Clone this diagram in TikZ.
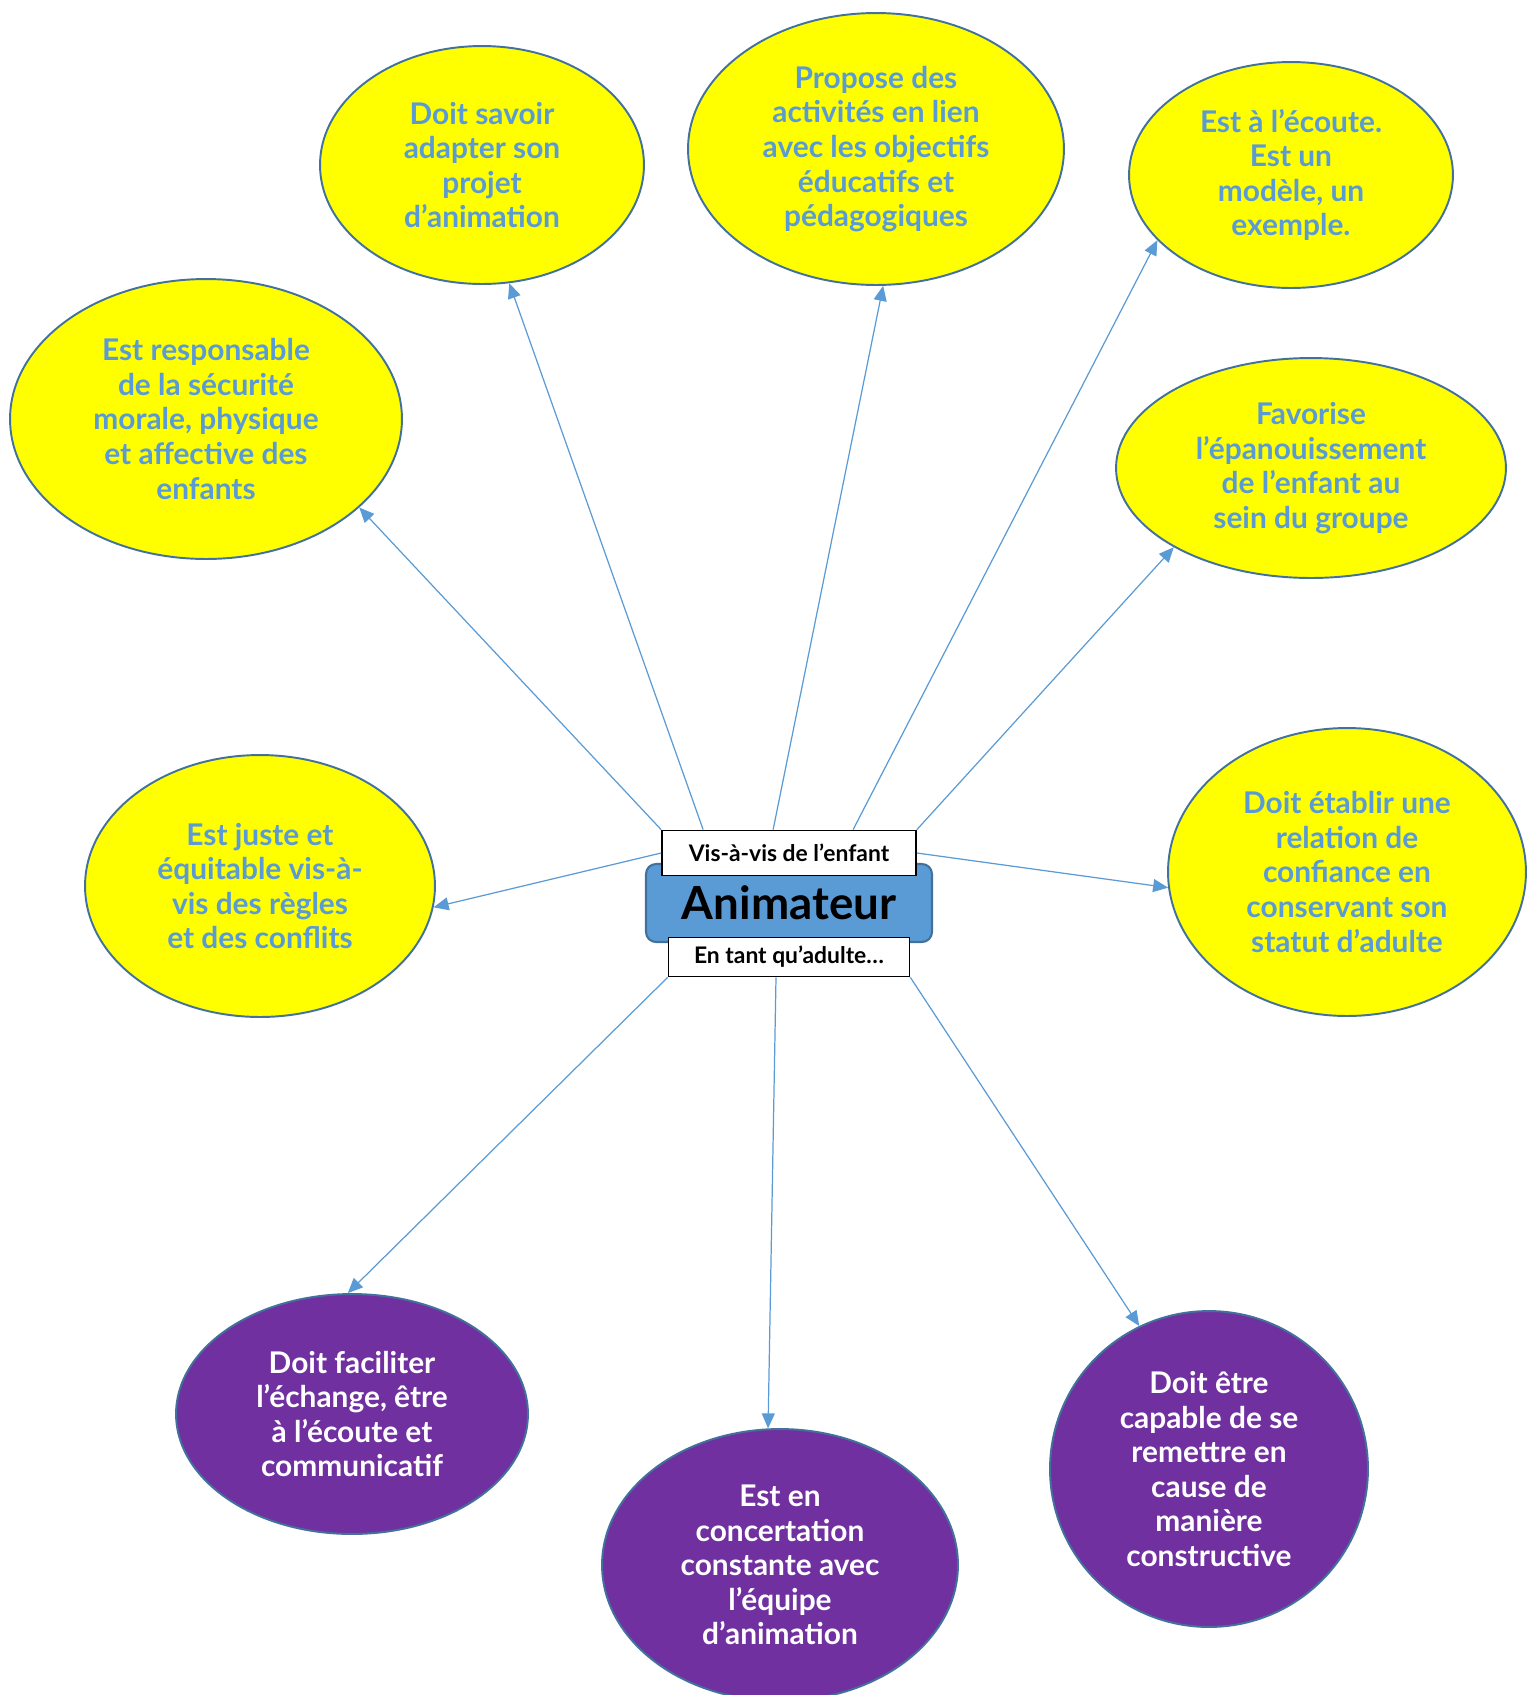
\documentclass[tikz,border=0pt]{standalone}
\usepackage{fontspec}
\setmainfont{Lato}
\usetikzlibrary{arrows.meta, shapes.geometric}
\definecolor{anyellow}{HTML}{FFFF00}
\definecolor{anblue}{HTML}{5B9BD5}
\definecolor{anborder}{HTML}{41719C}
\definecolor{anpurple}{HTML}{7030A0}

\begin{document}
\begin{tikzpicture}[x=0.02cm, y=-0.02cm,
  bulle/.style={ellipse, draw=anborder, line width=1.1pt, inner sep=0pt, align=center, font=\bfseries\fontsize{17}{19.7}\selectfont},
  jaune/.style={bulle, fill=anyellow, text=anblue},
  violet/.style={bulle, fill=anpurple, text=white},
  etiquette/.style={draw=black, fill=white, line width=1pt, inner sep=0pt, font=\bfseries\fontsize{13}{15}\selectfont},
  arr/.style={-{Triangle[length=3mm, width=2.6mm]}, anblue, line width=0.7pt}
]
  \useasboundingbox (0,0) rectangle (1526,1695);

  % centre
  \node[draw=anborder, fill=anblue, line width=1.2pt, rounded corners=0.2cm, minimum width=5.72cm, minimum height=1.56cm, font=\bfseries\fontsize{26}{30}\selectfont] (anim) at (789,903) {Animateur};
  \node[etiquette, minimum width=5.08cm, minimum height=0.9cm] (vis) at (789,853) {Vis-à-vis de l’enfant};
  \node[etiquette, minimum width=4.82cm, minimum height=0.78cm] (tantque) at (789,957) {En tant qu’adulte…};

  % vis-a-vis de l'enfant
  \node[jaune, minimum width=6.48cm, minimum height=4.76cm] (savoir) at (482,165) {Doit savoir\\adapter son\\projet\\d’animation};
  \node[jaune, minimum width=7.52cm, minimum height=5.44cm] (propose) at (876,149) {Propose des\\activités en lien\\avec les objectifs\\éducatifs et\\pédagogiques};
  \node[jaune, minimum width=6.48cm, minimum height=4.52cm] (ecoute) at (1291,175) {Est à l’écoute.\\Est un\\modèle, un\\exemple.};
  \node[jaune, minimum width=7.84cm, minimum height=5.6cm] (resp) at (206,419) {Est responsable\\de la sécurité\\morale, physique\\et affective des\\enfants};
  \node[jaune, minimum width=7.8cm, minimum height=4.4cm] (favorise) at (1311,468) {Favorise\\l’épanouissement\\de l’enfant au\\sein du groupe};
  \node[jaune, minimum width=7.0cm, minimum height=5.24cm] (juste) at (260,886) {Est juste et\\équitable vis-à-\\vis des règles\\et des conflits};
  \node[jaune, minimum width=7.16cm, minimum height=5.76cm] (etablir) at (1347,872) {Doit établir une\\relation de\\confiance en\\conservant son\\statut d’adulte};

  % en tant qu'adulte
  \node[violet, minimum width=7.04cm, minimum height=4.8cm] (faciliter) at (352,1414) {Doit faciliter\\l’échange, être\\à l’écoute et\\communicatif};
  \node[violet, minimum width=7.12cm, minimum height=5.44cm] (concert) at (780,1565) {Est en\\concertation\\constante avec\\l’équipe\\d’animation};
  \node[violet, minimum width=6.36cm, minimum height=6.32cm] (etre) at (1209,1469) {Doit être\\capable de se\\remettre en\\cause de\\manière\\constructive};

  \draw[arr] (vis.north west) -- (resp.-30);
  \draw[arr] ([xshift=0.84cm]vis.north west) -- (savoir.-77);
  \draw[arr] ([xshift=2.24cm]vis.north west) -- (propose.-87);
  \draw[arr] ([xshift=3.84cm]vis.north west) -- (ecoute.-154);
  \draw[arr] (vis.north east) -- (favorise.-150);
  \draw[arr] (vis.east) -- (etablir.185);
  \draw[arr] (vis.west) -- (juste.-7);
  \draw[arr] (tantque.south west) -- (faciliter.92);
  \draw[arr] ([xshift=-0.26cm]tantque.south) -- (concert.95);
  \draw[arr] (tantque.south east) -- (etre.116);
\end{tikzpicture}
\end{document}
